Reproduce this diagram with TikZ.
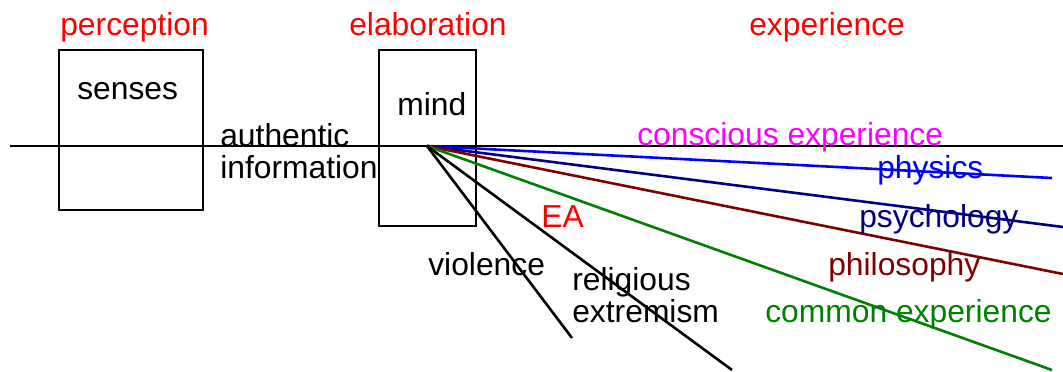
\documentclass[tikz,border=0pt]{standalone}
\usepackage{fontspec}
\setmainfont{Liberation Sans}
\usepackage{tikz}
\definecolor{navy}{rgb}{0,0,0.5}
\definecolor{maroon}{rgb}{0.5,0,0}
\definecolor{darkgreen}{rgb}{0,0.5,0}
\definecolor{pink}{rgb}{1,0,1}

\begin{document}
\begin{tikzpicture}[x=0.5pt, y=-0.5pt, line width=1.3pt,
  lbl/.style={anchor=base west, inner sep=0pt, align=left,
    font=\fontsize{15.9}{16}\selectfont}]
\useasboundingbox (0,0) rectangle (1063,371);
\node[draw, minimum width=72pt, minimum height=80pt, inner sep=0pt] (sensesbox) at (131,130) {};
\node[draw, minimum width=48.5pt, minimum height=88pt, inner sep=0pt] (mindbox) at (427.5,138) {};
\coordinate (lineL) at (10,146);
\coordinate (lineR) at (1063,146);
\draw (lineL) -- (lineR);
\node[lbl, red] (perception) at (59,35) {perception};
\node[lbl, red] (elaboration) at (348,35) {elaboration};
\node[lbl, red] (experience) at (748,35) {experience};
\node[lbl] (senses) at (76,99) {senses};
\node[lbl] (mind) at (396,115) {mind};
\node[lbl] (authentic) at (219,178) {authentic\\information};
\coordinate (origin) at (427,146);
\coordinate (endphys) at (1052,178);
\coordinate (endpsy) at (1063,227);
\coordinate (endphil) at (1063,274);
\coordinate (endcommon) at (1052,370);
\coordinate (endviol) at (572,338);
\coordinate (endrel) at (732,370);
\draw[blue] (origin) -- (endphys);
\draw[navy] (origin) -- (endpsy);
\draw[maroon] (origin) -- (endphil);
\draw[darkgreen] (origin) -- (endcommon);
\draw (origin) -- (endviol);
\draw (origin) -- (endrel);
\node[lbl, pink] (conscious) at (636,145) {conscious experience};
\node[lbl, blue] (physics) at (876,178) {physics};
\node[lbl, navy] (psychology) at (858,227) {psychology};
\node[lbl, maroon] (philosophy) at (827,275) {philosophy};
\node[lbl, darkgreen] (common) at (764,322) {common experience};
\node[lbl, red] (ea) at (540,227) {EA};
\node[lbl] (violence) at (427,275) {violence};
\node[lbl] (religious) at (571,322) {religious\\extremism};
\end{tikzpicture}
\end{document}
